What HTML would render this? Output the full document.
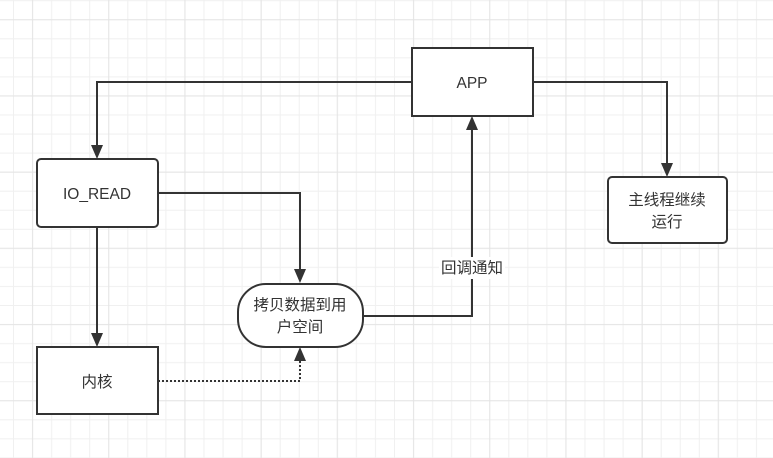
<!DOCTYPE html>
<html><head><meta charset="utf-8"><style>
html,body{margin:0;padding:0;background:#fff;}
svg{display:block;}
text{font-family:"Liberation Sans","Noto Sans CJK SC",sans-serif;font-size:15.5px;fill:#333;}
</style></head><body>
<svg width="773" height="458" viewBox="0 0 773 458" xmlns="http://www.w3.org/2000/svg">
<defs>
<pattern id="g" x="13" y="0.2" width="76.2" height="76.2" patternUnits="userSpaceOnUse">
<path d="M0.5 0V76.2M19.55 0V76.2M38.6 0V76.2M57.65 0V76.2M0 0.5H76.2M0 19.55H76.2M0 38.6H76.2M0 57.65H76.2" stroke="#f0f0f0" stroke-width="1" fill="none"/>
<path d="M19.55 0V76.2M0 19.55H76.2" stroke="#e4e4e4" stroke-width="1" fill="none"/>
</pattern>
</defs>
<rect width="773" height="458" fill="url(#g)"/>
<g stroke="#333" stroke-width="2" fill="none">
<path d="M412 82H97V150"/>
<path d="M533 82H667V168"/>
<path d="M158 193H300V274"/>
<path d="M97 227V338"/>
<path d="M363 316H472V124"/>
<path d="M158 381H300V356" stroke-dasharray="2 2"/>
</g>
<g fill="#333">
<path d="M91 145L97 159L103 145Z"/>
<path d="M661 163L667 177L673 163Z"/>
<path d="M294 269L300 283L306 269Z"/>
<path d="M91 333L97 347L103 333Z"/>
<path d="M466 130L472 116L478 130Z"/>
<path d="M294 361L300 347L306 361Z"/>
</g>
<g stroke="#333" stroke-width="2" fill="#fff">
<rect x="412" y="48" width="121" height="68"/>
<rect x="37" y="159" width="121" height="68" rx="4"/>
<rect x="37" y="347" width="121" height="67"/>
<rect x="608" y="177" width="119" height="66" rx="4"/>
<rect x="238" y="284" width="125" height="63" rx="28"/>
</g>
<rect x="439" y="257" width="66" height="22" fill="#fff"/>
<g text-anchor="middle">
<text x="472" y="88">APP</text>
<text x="97" y="199">IO_READ</text>
<text x="97" y="387">内核</text>
<text x="667" y="205">主线程继续</text>
<text x="667" y="227">运行</text>
<text x="300" y="310">拷贝数据到用</text>
<text x="300" y="332">户空间</text>
<text x="472" y="273">回调通知</text>
</g>
</svg>
</body></html>
